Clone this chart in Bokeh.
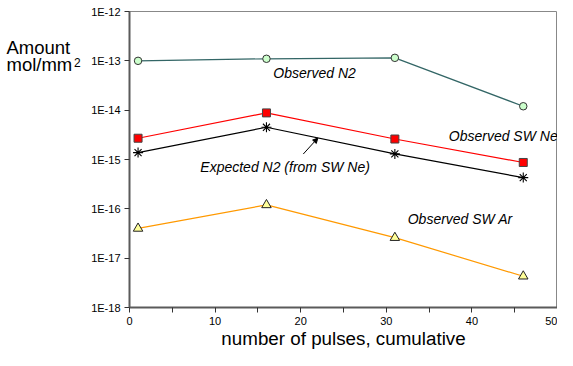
from bokeh.plotting import figure
from bokeh.layouts import row
from bokeh.models import FixedTicker, Label, Arrow, NormalHead, Range1d
from bokeh.core.properties import value
from bokeh.embed import file_html
from bokeh.resources import INLINE

pulses = [1, 16, 31, 46]
obs_n2 = [1.0e-13, 1.1e-13, 1.15e-13, 1.2e-14]
obs_sw_ne = [2.7e-15, 8.8e-15, 2.6e-15, 8.7e-16]
exp_n2 = [1.38e-15, 4.5e-15, 1.3e-15, 4.3e-16]
obs_sw_ar = [4.0e-17, 1.2e-16, 2.6e-17, 4.3e-18]

y_ticks = [1e-18, 1e-17, 1e-16, 1e-15, 1e-14, 1e-13, 1e-12]
y_labels = ["1E-18", "1E-17", "1E-16", "1E-15", "1E-14", "1E-13", "1E-12"]
x_ticks = [0, 10, 20, 30, 40, 50]
x_minor = [5, 15, 25, 35, 45]

FONT = "Liberation Sans"

# left panel holding the y-axis title
t = figure(width=85, height=350, output_backend="svg", toolbar_location=None,
           x_range=Range1d(0, 85), y_range=Range1d(350, 0),
           x_axis_location=None, y_axis_location=None,
           min_border_left=0, min_border_right=0, min_border_top=0, min_border_bottom=0)
t.outline_line_color = None
t.xgrid.visible = False
t.ygrid.visible = False
t.text(x=[6, 6], y=[43, 63], text=["Amount", "mol/mm"], text_font=value(FONT),
       text_font_size="18.5px", text_color="black", text_baseline="alphabetic")
t.text(x=[73.5], y=[61], text=["2"], text_font=value(FONT),
       text_font_size="12px", text_color="black", text_baseline="alphabetic")

p = figure(frame_width=428, frame_height=296, output_backend="svg", toolbar_location=None,
           y_axis_type="log", x_range=(0, 50), y_range=(1e-18, 1e-12),
           min_border_left=44, min_border_right=0, min_border_top=11, min_border_bottom=43)
p.background_fill_color = "white"
p.border_fill_color = "white"
p.outline_line_color = "#888888"
p.outline_line_width = 1
p.xgrid.visible = False
p.ygrid.visible = False

for ax in (p.xaxis[0], p.yaxis[0]):
    ax.axis_line_color = "#5a5a5a"
    ax.axis_line_width = 2
    ax.major_tick_line_color = "#333333"
    ax.minor_tick_line_color = "#333333"
    ax.major_tick_in = 0
    ax.minor_tick_in = 0
    ax.major_tick_out = 5
    ax.minor_tick_out = 5
    ax.major_label_text_font = FONT
    ax.major_label_text_font_size = "11px"
    ax.major_label_text_color = "black"

p.yaxis.ticker = FixedTicker(ticks=y_ticks, minor_ticks=[])
p.yaxis.major_label_overrides = {tk: lb for tk, lb in zip(y_ticks, y_labels)}
p.yaxis.major_label_standoff = 4
p.xaxis.ticker = FixedTicker(ticks=x_ticks, minor_ticks=x_minor)
p.xaxis.major_label_standoff = 4

p.xaxis.axis_label = "number of pulses, cumulative"
p.xaxis.axis_label_text_font = FONT
p.xaxis.axis_label_text_font_size = "18.8px"
p.xaxis.axis_label_text_font_style = "normal"
p.xaxis.axis_label_text_color = "black"
p.xaxis.axis_label_standoff = 0

# series
p.line(pulses, obs_n2, line_color="#336666", line_width=1.2)
p.scatter(pulses, obs_n2, marker="circle", size=7.5, fill_color="#ccffcc", line_color="#333333")

p.line(pulses, obs_sw_ne, line_color="#ff0000", line_width=1.2)
p.scatter(pulses, obs_sw_ne, marker="square", size=8, fill_color="#ff0000", line_color="#444444")

p.line(pulses, exp_n2, line_color="black", line_width=1.2)
p.scatter(pulses, exp_n2, marker="asterisk", size=10, line_color="black", line_width=1.1)

p.line(pulses, obs_sw_ar, line_color="#ff9900", line_width=1.2)
p.scatter(pulses, obs_sw_ar, marker="triangle", size=9.5, fill_color="#ffff99", line_color="#222222")

# annotations
def lab(x, y, text):
    p.add_layout(Label(x=x, y=y, text=text, text_font=FONT, text_font_size="14px",
                       text_font_style="italic", text_color="black", text_baseline="middle"))

lab(16.8, 10 ** -13.25, "Observed N2")
lab(37.3, 10 ** -14.52, "Observed SW Ne")
lab(8.27, 10 ** -15.145, "Expected N2 (from SW Ne)")
lab(32.5, 10 ** -16.21, "Observed SW Ar")

p.add_layout(Arrow(end=NormalHead(size=5, fill_color="black", line_color="black"),
                   x_start=20.3, y_start=1.29e-15, x_end=22.0, y_end=2.72e-15,
                   line_color="black", line_width=1))

layout = row(t, p)
open("out.html", "w").write(file_html(layout, INLINE))
